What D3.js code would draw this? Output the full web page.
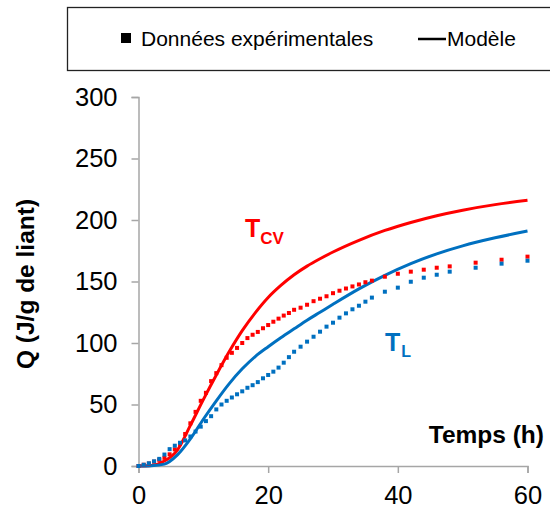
<!DOCTYPE html>
<html>
<head>
<meta charset="utf-8">
<script src="https://cdn.jsdelivr.net/npm/d3@7"></script>
<style>
  body { margin: 0; background: #fff; }
  svg { font-family: "Liberation Sans", Arial, sans-serif; }
</style>
</head>
<body>
<div id="chart"></div>
<script>
// experimental data: time (h) and heat Q (J/g de liant)
var tExp = [0, 0.8, 1.6, 2.4, 3.2, 4.0, 4.8, 5.6, 6.4, 7.2, 8.0, 8.8, 9.6, 10.4, 11.2, 12.0,
  12.8, 13.6, 14.4, 15.2, 16.0, 16.8, 17.6, 18.4, 19.2, 20.0, 20.8, 21.6, 22.4, 23.2, 24,
  25, 26, 27, 28, 29, 30, 31, 32, 33, 34, 35, 36, 38, 40, 42, 44, 46, 48, 52, 56, 60];
var qExpCV = [0, 1, 2, 3.5, 5, 6.6, 9.5, 13.5, 18, 26, 34.7, 44, 53, 59.5, 69, 75.5,
  82, 88, 92, 96, 100, 104, 106.7, 109, 112, 114.6, 117.3, 119.8, 122.3, 124.4, 127,
  128.7, 131.1, 134, 136, 138, 140.5, 142.5, 144.3, 146, 147.6, 149.4, 150.7, 153.9, 156.3, 158, 159.6, 161.2, 162.3, 165.3, 167.7, 170.2];
var qExpL = [0, 1, 2.2, 3.8, 5.8, 9.3, 13.7, 16.5, 18.9, 20.8, 24, 28, 32, 36.5, 40.5, 46,
  50, 53, 55.7, 58.3, 60.7, 63.6, 65.7, 68.2, 71.3, 74, 76.7, 80, 84, 88.5, 92.9,
  97, 101.1, 105.1, 109.2, 113.3, 116.5, 120.6, 124.1, 127.4, 130.3, 133.6, 136.9, 141.7, 145, 149.8, 153.1, 155.5, 158, 161.2, 164.5, 166.9];

// model curves
var tMod = [0, 2, 4, 6, 8, 10, 12, 14, 16, 18, 20, 22, 24, 26, 28, 30, 34, 38, 42, 46, 50, 55, 60];
var qModCV = [0, 0.5, 4, 13, 33, 54, 74, 93, 110, 124.5, 137, 147, 155.5, 162.5, 168.5, 174, 183.5, 191.5, 198, 203.5, 208, 212.5, 216];
var qModL = [0, 0.2, 1.5, 9, 22, 38, 53, 67, 79, 89, 97, 104.5, 111.5, 118.5, 125, 131.5, 144, 155, 164.5, 172.5, 179, 185.5, 191];

var xTicks = [0, 20, 40, 60];
var yTicks = [0, 50, 100, 150, 200, 250, 300];

var red = "#ff0000", blue = "#0070c0", axisColor = "#a6a6a6";
var width = 550, height = 508;

var svg = d3.select("#chart").append("svg")
  .attr("width", width)
  .attr("height", height);

var xScale = d3.scaleLinear().domain([0, 60]).range([138.5, 527.5]);
var yScale = d3.scaleLinear().domain([0, 300]).range([466, 97]);

// legend box
svg.append("rect")
  .attr("x", 67.5).attr("y", 7.5)
  .attr("width", 500).attr("height", 63)
  .attr("fill", "none")
  .attr("stroke", "#222")
  .attr("stroke-width", 1.3);
svg.append("rect")
  .attr("x", 121).attr("y", 33)
  .attr("width", 10).attr("height", 10)
  .attr("fill", "#000");
svg.append("text")
  .text("Données expérimentales")
  .attr("x", 141).attr("y", 46)
  .style("font-size", "21px");
svg.append("line")
  .attr("x1", 418).attr("x2", 446)
  .attr("y1", 39).attr("y2", 39)
  .attr("stroke", "#000").attr("stroke-width", 2.5);
svg.append("text")
  .text("Modèle")
  .attr("x", 447).attr("y", 46)
  .style("font-size", "21px");

// axes
var xAxis = svg.append("g")
  .attr("transform", "translate(0," + yScale(0) + ")")
  .call(d3.axisBottom(xScale).tickValues(xTicks).tickSize(7).tickPadding(13));
var yAxis = svg.append("g")
  .attr("transform", "translate(" + xScale(0) + ",0)")
  .call(d3.axisLeft(yScale).tickValues(yTicks).tickSize(7).tickPadding(14));
[xAxis, yAxis].forEach(function(a) {
  a.select(".domain").attr("stroke", axisColor).attr("stroke-width", 1.5);
  a.selectAll(".tick line").attr("stroke", axisColor).attr("stroke-width", 1.5);
  a.selectAll(".tick text")
    .attr("fill", "#000")
    .style("font-size", "25.5px")
    .style("font-family", "Liberation Sans, Arial, sans-serif");
});

// axis titles
svg.append("text")
  .text("Q (J/g de liant)")
  .attr("transform", "translate(34,284) rotate(-90)")
  .attr("text-anchor", "middle")
  .style("font-size", "24.5px")
  .style("font-weight", "bold");
svg.append("text")
  .text("Temps (h)")
  .attr("x", 544).attr("y", 443)
  .attr("text-anchor", "end")
  .style("font-size", "24.5px")
  .style("font-weight", "bold");

// model lines
var line = d3.line().curve(d3.curveMonotoneX)
  .x(function(d) { return xScale(d[0]); })
  .y(function(d) { return yScale(d[1]); });

[[qModCV, red], [qModL, blue]].forEach(function(s) {
  svg.append("path")
    .datum(tMod.map(function(t, i) { return [t, s[0][i]]; }))
    .attr("fill", "none")
    .attr("stroke", s[1])
    .attr("stroke-width", 3)
    .attr("d", line);
});

// experimental points
[[qExpCV, red], [qExpL, blue]].forEach(function(s) {
  svg.append("g").selectAll("rect")
    .data(tExp.map(function(t, i) { return [t, s[0][i]]; }))
    .enter().append("rect")
    .attr("x", function(d) { return xScale(d[0]) - 2; })
    .attr("y", function(d) { return yScale(d[1]) - 2; })
    .attr("width", 4).attr("height", 4)
    .attr("fill", s[1]);
});

// series labels
var tcv = svg.append("text")
  .attr("x", 245).attr("y", 237)
  .attr("fill", red)
  .style("font-size", "25px")
  .style("font-weight", "bold");
tcv.append("tspan").text("T");
tcv.append("tspan").text("CV").attr("dy", 7).style("font-size", "17px");

var tl = svg.append("text")
  .attr("x", 385).attr("y", 351)
  .attr("fill", blue)
  .style("font-size", "25px")
  .style("font-weight", "bold");
tl.append("tspan").text("T");
tl.append("tspan").text("L").attr("dy", 6).attr("dx", 1).style("font-size", "16px");
</script>
</body>
</html>
